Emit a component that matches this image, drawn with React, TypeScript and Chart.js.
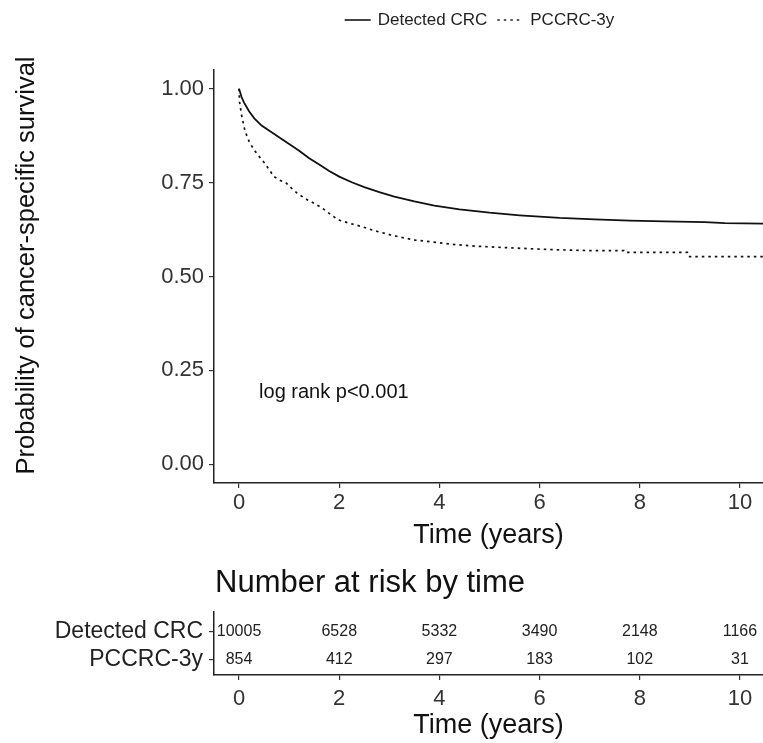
import React, { useEffect, useRef } from 'react';
import { Chart, registerables } from 'chart.js';

Chart.register(...registerables);

const FONT = "'Liberation Sans', Arial, Helvetica, sans-serif";

// ---- data ----
const seriesNames = ['Detected CRC', 'PCCRC-3y'];

const detectedTime = [0, 0.05, 0.1, 0.2, 0.3, 0.45, 0.65, 0.85, 1.0, 1.2, 1.4, 1.6, 1.8, 2.0, 2.25, 2.5, 2.8, 3.1, 3.5, 3.9, 4.4, 5.0, 5.6, 6.4, 7.1, 7.8, 8.5, 9.3, 9.7, 10.46];
const detectedSurv = [1.0, 0.978, 0.963, 0.94, 0.922, 0.902, 0.884, 0.866, 0.853, 0.835, 0.815, 0.798, 0.781, 0.766, 0.751, 0.738, 0.725, 0.713, 0.7, 0.689, 0.679, 0.67, 0.663, 0.656, 0.652, 0.649, 0.647, 0.645, 0.642, 0.641];

const pccrcTime = [0, 0.01, 0.05, 0.12, 0.2, 0.3, 0.4, 0.51, 0.6, 0.69, 0.8, 0.94, 1.05, 1.16, 1.27, 1.37, 1.5, 1.66, 1.8, 1.98, 2.2, 2.45, 2.7, 3.02, 3.25, 3.52, 3.85, 4.24, 4.7, 5.31, 5.8, 6.39, 7.0, 7.68, 7.7, 8.4, 8.95, 8.97, 9.5, 10.46];
const pccrcSurv = [1.0, 0.965, 0.93, 0.887, 0.86, 0.837, 0.82, 0.802, 0.785, 0.767, 0.757, 0.749, 0.735, 0.722, 0.712, 0.704, 0.695, 0.682, 0.668, 0.651, 0.642, 0.633, 0.622, 0.611, 0.604, 0.597, 0.592, 0.586, 0.581, 0.577, 0.574, 0.571, 0.569, 0.569, 0.564, 0.564, 0.564, 0.553, 0.553, 0.553];

const xTicks = [0, 2, 4, 6, 8, 10];
const yTicks = [0, 0.25, 0.5, 0.75, 1.0];
const X_MIN = -0.5;
const X_MAX = 10.46;

const yTitle = 'Probability of cancer-specific survival';
const xTitle = 'Time (years)';
const pValueText = 'log rank p<0.001';
const pValueX = 0.4;
const pValueY = 0.19;

const riskTitle = 'Number at risk by time';
const riskTimes = [0, 2, 4, 6, 8, 10];
const riskDetected = [10005, 6528, 5332, 3490, 2148, 1166];
const riskPCCRC = [854, 412, 297, 183, 102, 31];
const riskRows = [2, 1]; // row position for Detected CRC, PCCRC-3y

const lineDashes: number[][] = [[], [2.5, 4]];

export default function App() {
  const mainRef = useRef<HTMLCanvasElement>(null);
  const tableRef = useRef<HTMLCanvasElement>(null);

  useEffect(() => {
    const legendPlugin = {
      id: 'kmLegend',
      afterDraw(chart: any) {
        const { ctx, chartArea } = chart;
        ctx.save();
        ctx.font = `17px ${FONT}`;
        const keyW = 26, gapKT = 7, gapItems = 10;
        const widths = seriesNames.map((n) => ctx.measureText(n).width);
        const total = widths.reduce((a, w) => a + keyW + gapKT + w, 0) + gapItems * (seriesNames.length - 1);
        let x = (chartArea.left + chartArea.right) / 2 - total / 2 - 9;
        const y = 20;
        seriesNames.forEach((n, i) => {
          ctx.beginPath();
          ctx.setLineDash(lineDashes[i]);
          ctx.lineWidth = 1.7;
          ctx.strokeStyle = '#222';
          ctx.moveTo(x, y);
          ctx.lineTo(x + keyW, y);
          ctx.stroke();
          ctx.setLineDash([]);
          x += keyW + gapKT;
          ctx.fillStyle = '#222';
          ctx.textAlign = 'left';
          ctx.textBaseline = 'middle';
          ctx.fillText(n, x, y);
          x += widths[i] + gapItems;
        });
        // p-value annotation
        const xs = chart.scales.x, ys = chart.scales.y;
        ctx.font = `20px ${FONT}`;
        ctx.fillStyle = '#111';
        ctx.textAlign = 'left';
        ctx.textBaseline = 'middle';
        ctx.fillText(pValueText, xs.getPixelForValue(pValueX), ys.getPixelForValue(pValueY));
        // y axis title
        ctx.translate(27, (chartArea.top + chartArea.bottom) / 2 - 11);
        ctx.rotate(-Math.PI / 2);
        ctx.font = `25.5px ${FONT}`;
        ctx.textAlign = 'center';
        ctx.fillText(yTitle, 0, 0);
        ctx.restore();
      },
    };

    const main = new Chart(mainRef.current!, {
      type: 'line',
      data: {
        datasets: [
          {
            label: seriesNames[0],
            data: detectedTime.map((t, i) => ({ x: t, y: detectedSurv[i] })),
            borderColor: '#111',
            borderWidth: 1.8,
            borderDash: lineDashes[0],
            pointRadius: 0,
            fill: false,
            tension: 0,
          },
          {
            label: seriesNames[1],
            data: pccrcTime.map((t, i) => ({ x: t, y: pccrcSurv[i] })),
            borderColor: '#111',
            borderWidth: 1.7,
            borderDash: lineDashes[1],
            borderCapStyle: 'butt',
            pointRadius: 0,
            fill: false,
            tension: 0,
          },
        ],
      },
      options: {
        animation: false,
        responsive: true,
        maintainAspectRatio: false,
        layout: { padding: { top: 70, left: 0, right: 0, bottom: 0 } },
        plugins: { legend: { display: false }, tooltip: { enabled: false }, title: { display: false } },
        scales: {
          x: {
            type: 'linear',
            min: X_MIN,
            max: X_MAX,
            afterBuildTicks: (s: any) => { s.ticks = xTicks.map((v) => ({ value: v })); },
            afterFit: (s: any) => { s.height = 77; },
            ticks: { font: { size: 22, family: FONT }, color: '#333', padding: 2, maxRotation: 0, callback: (v: any) => String(v) },
            grid: { drawOnChartArea: false, drawTicks: true, tickLength: 5, color: '#333', lineWidth: 1.2 },
            border: { display: true, color: '#222', width: 1.5 },
            title: { display: true, text: xTitle, font: { size: 27, family: FONT }, color: '#111', padding: { top: 0, bottom: 8 } },
          },
          y: {
            type: 'linear',
            min: -0.05,
            max: 1.05,
            afterBuildTicks: (s: any) => { s.ticks = yTicks.map((v) => ({ value: v })); },
            afterFit: (s: any) => { s.width = 214; },
            ticks: { font: { size: 22, family: FONT }, color: '#333', padding: 5, callback: (v: any) => Number(v).toFixed(2) },
            grid: { drawOnChartArea: false, drawTicks: true, tickLength: 5, color: '#333', lineWidth: 1.2 },
            border: { display: true, color: '#222', width: 1.5 },
            title: { display: false },
          },
        },
      } as any,
      plugins: [legendPlugin],
    });

    const riskPlugin = {
      id: 'riskNumbers',
      afterDatasetsDraw(chart: any) {
        const { ctx, chartArea } = chart;
        const counts = [riskDetected, riskPCCRC];
        ctx.save();
        ctx.font = `16px ${FONT}`;
        ctx.fillStyle = '#222';
        ctx.textAlign = 'center';
        ctx.textBaseline = 'middle';
        counts.forEach((arr, d) => {
          const meta = chart.getDatasetMeta(d);
          meta.data.forEach((el: any, i: number) => {
            ctx.fillText(String(arr[i]), el.x, el.y);
          });
        });
        ctx.font = `31px ${FONT}`;
        ctx.fillStyle = '#111';
        ctx.textAlign = 'left';
        ctx.fillText(riskTitle, chartArea.left + 1, 23);
        ctx.restore();
      },
    };

    const table = new Chart(tableRef.current!, {
      type: 'scatter',
      data: {
        datasets: [
          { label: seriesNames[0], data: riskTimes.map((t) => ({ x: t, y: riskRows[0] })), pointRadius: 0 },
          { label: seriesNames[1], data: riskTimes.map((t) => ({ x: t, y: riskRows[1] })), pointRadius: 0 },
        ],
      },
      options: {
        animation: false,
        responsive: true,
        maintainAspectRatio: false,
        layout: { padding: { top: 52, left: 0, right: 0, bottom: 0 } },
        plugins: { legend: { display: false }, tooltip: { enabled: false }, title: { display: false } },
        scales: {
          x: {
            type: 'linear',
            min: X_MIN,
            max: X_MAX,
            afterBuildTicks: (s: any) => { s.ticks = riskTimes.map((v) => ({ value: v })); },
            afterFit: (s: any) => { s.height = 68; },
            ticks: { font: { size: 22, family: FONT }, color: '#333', padding: 6, maxRotation: 0, callback: (v: any) => String(v) },
            grid: { drawOnChartArea: false, drawTicks: true, tickLength: 5, color: '#333', lineWidth: 1.2 },
            border: { display: true, color: '#222', width: 1.5 },
            title: { display: true, text: xTitle, font: { size: 27, family: FONT }, color: '#111', padding: { top: 0, bottom: 1 } },
          },
          y: {
            type: 'linear',
            min: 0.45,
            max: 2.7,
            afterBuildTicks: (s: any) => { s.ticks = riskRows.map((v) => ({ value: v })); },
            afterFit: (s: any) => { s.width = 214; },
            ticks: {
              font: { size: 23, family: FONT },
              color: '#222',
              padding: 6,
              callback: (v: any) => { const idx = riskRows.indexOf(Number(v)); return idx >= 0 ? seriesNames[idx] : ''; },
            },
            grid: { drawOnChartArea: false, drawTicks: true, tickLength: 5, color: '#333', lineWidth: 1.2 },
            border: { display: true, color: '#222', width: 1.5 },
          },
        },
      } as any,
      plugins: [riskPlugin],
    });

    return () => {
      main.destroy();
      table.destroy();
    };
  }, []);

  return (
    <div style={{ position: 'absolute', left: 0, top: 0, width: 763, height: 743, background: '#fff', overflow: 'hidden' }}>
      <div style={{ position: 'absolute', left: 0, top: 0, width: 763, height: 560 }}>
        <canvas ref={mainRef} />
      </div>
      <div style={{ position: 'absolute', left: 0, top: 560, width: 763, height: 183 }}>
        <canvas ref={tableRef} />
      </div>
    </div>
  );
}
